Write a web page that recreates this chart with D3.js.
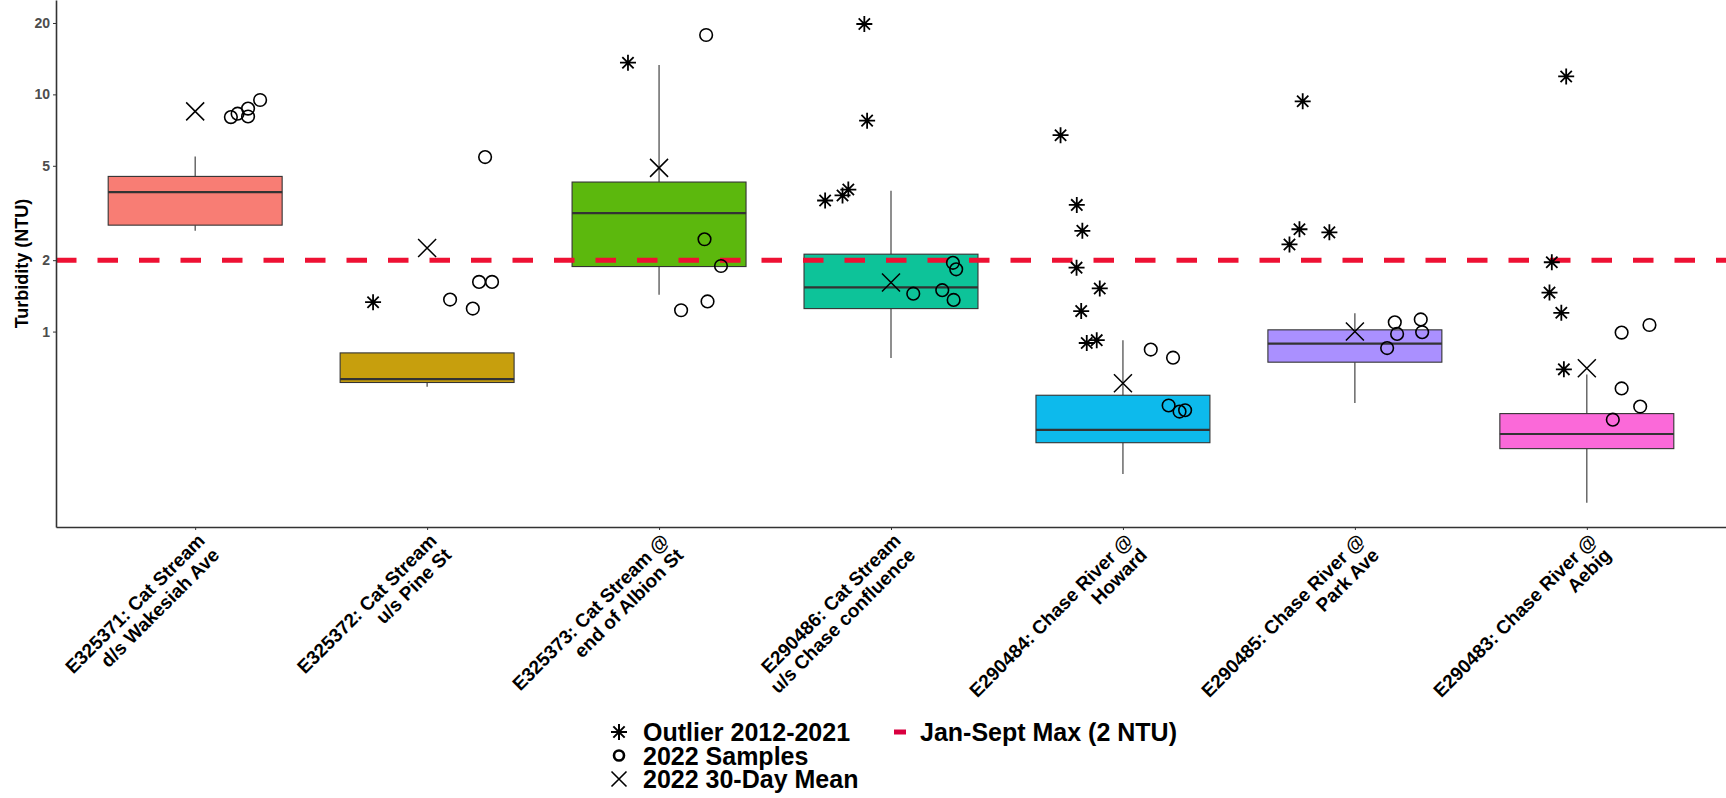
<!DOCTYPE html>
<html>
<head>
<meta charset="utf-8">
<script src="https://cdn.jsdelivr.net/npm/d3@7"></script>
<style>
  html, body { margin: 0; padding: 0; background: #ffffff; }
  svg { display: block; font-family: "Liberation Sans", Arial, sans-serif; }
</style>
</head>
<body>
<svg id="chart" width="1726" height="798"></svg>
<script>
// ---------------- data ----------------
const sites = [
  "E325371: Cat Stream|d/s Wakesiah Ave",
  "E325372: Cat Stream|u/s Pine St",
  "E325373: Cat Stream @|end of Albion St",
  "E290486: Cat Stream|u/s Chase confluence",
  "E290484: Chase River @|Howard",
  "E290485: Chase River @|Park Ave",
  "E290483: Chase River @|Aebig"
];
// box statistics 2012-2021
const whiskerLow  = [2.66, 0.586, 1.43, 0.773, 0.251, 0.50, 0.19];
const q1          = [2.81, 0.61,  1.88, 1.25,  0.340, 0.743, 0.321];
const median      = [3.87, 0.63,  3.16, 1.535, 0.385, 0.89, 0.370];
const q3          = [4.51, 0.813, 4.27, 2.12,  0.539, 1.017, 0.451];
const whiskerHigh = [5.47, 0.813, 13.3, 3.92,  0.920, 1.195, 0.66];
// 2022 30-day mean
const mean30 = [8.48, 2.25, 4.90, 1.61, 0.605, 1.00, 0.70];
// Outliers 2012-2021 (site index, value, jitter in category units)
const outlierSite   = [1, 2, 3, 3, 3, 3, 3, 4, 4, 4, 4, 4, 4, 4, 4, 5, 5, 5, 5, 6, 6, 6, 6, 6];
const outlierValue  = [1.33, 13.6, 19.8, 7.75, 3.57, 3.75, 3.97, 6.73, 3.42, 2.66, 1.86, 1.52, 1.22, 0.895, 0.92, 9.35, 2.70, 2.33, 2.62, 11.9, 1.96, 1.46, 1.20, 0.693];
const outlierJitter = [-0.233, -0.134, -0.115, -0.103, -0.284, -0.209, -0.184, -0.269, -0.199, -0.175, -0.200, -0.100, -0.180, -0.156, -0.113, -0.225, -0.239, -0.282, -0.110, -0.089, -0.151, -0.161, -0.110, -0.099];
// 2022 samples
const sampleSite   = [0, 0, 0, 0, 0, 1, 1, 1, 1, 1, 2, 2, 2, 2, 2, 3, 3, 3, 3, 3, 4, 4, 4, 4, 4, 5, 5, 5, 5, 5, 6, 6, 6, 6, 6];
const sampleValue  = [8.02, 8.29, 8.71, 8.07, 9.47, 1.365, 1.25, 1.62, 1.62, 5.44, 17.8, 2.45, 1.89, 1.34, 1.23, 1.445, 1.494, 1.36, 1.95, 1.83, 0.84, 0.776, 0.488, 0.46, 0.466, 1.094, 0.977, 0.852, 1.125, 0.994, 0.99, 1.066, 0.576, 0.483, 0.425];
const sampleJitter = [0.154, 0.183, 0.228, 0.228, 0.280, 0.099, 0.197, 0.224, 0.280, 0.250, 0.203, 0.196, 0.267, 0.209, 0.095, 0.096, 0.221, 0.270, 0.267, 0.281, 0.120, 0.216, 0.197, 0.244, 0.268, 0.172, 0.182, 0.139, 0.284, 0.290, 0.150, 0.270, 0.150, 0.230, 0.112];
const yTicks = [1, 2, 5, 10, 20];
const limitValue = 2;
const fills = ["#F8766D", "#C49A00", "#53B400", "#00C094", "#00B6EB", "#A58AFF", "#FB61D7"];
const legendLabels = ["Outlier 2012-2021", "2022 Samples", "2022 30-Day Mean", "Jan-Sept Max (2 NTU)"];

// ---------------- layout ----------------
const svg = d3.select("#chart");
const plotLeft = 56, plotRight = 1726, plotTop = 0, plotBottom = 527;
const x = d3.scalePoint().domain(d3.range(sites.length)).range([plotLeft, plotRight]).padding(0.6);
const y = d3.scaleLog().domain([0.15, 25]).range([plotBottom, plotTop]);
const step = x.step();
const boxW = step * 0.75;

// marker paths
const starPath = r => {
  const d = r * Math.SQRT1_2;
  return `M${-r},0L${r},0M0,${-r}L0,${r}M${-d},${-d}L${d},${d}M${-d},${d}L${d},${-d}`;
};
const crossPath = r => `M${-r},${-r}L${r},${r}M${-r},${r}L${r},${-r}`;

// ---------------- boxes ----------------
const boxes = svg.append("g").selectAll("g")
  .data(sites.map((s, i) => i))
  .join("g");
boxes.append("line")
  .attr("x1", i => x(i)).attr("x2", i => x(i))
  .attr("y1", i => y(whiskerHigh[i])).attr("y2", i => y(q3[i]))
  .attr("stroke", "#333").attr("stroke-width", 1.1);
boxes.append("line")
  .attr("x1", i => x(i)).attr("x2", i => x(i))
  .attr("y1", i => y(q1[i])).attr("y2", i => y(whiskerLow[i]))
  .attr("stroke", "#333").attr("stroke-width", 1.1);
boxes.append("rect")
  .attr("x", i => x(i) - boxW / 2)
  .attr("width", boxW)
  .attr("y", i => y(q3[i]))
  .attr("height", i => y(q1[i]) - y(q3[i]))
  .attr("fill", i => fills[i])
  .attr("fill-opacity", 0.95)
  .attr("stroke", "#333")
  .attr("stroke-width", 1.1);
boxes.append("line")
  .attr("x1", i => x(i) - boxW / 2).attr("x2", i => x(i) + boxW / 2)
  .attr("y1", i => y(median[i])).attr("y2", i => y(median[i]))
  .attr("stroke", "#333").attr("stroke-width", 2.2);

// ---------------- guideline ----------------
svg.append("line")
  .attr("x1", plotLeft).attr("x2", plotRight)
  .attr("y1", y(limitValue)).attr("y2", y(limitValue))
  .attr("stroke", "#EE1133")
  .attr("stroke-width", 5)
  .attr("stroke-dasharray", "20.5,21");

// ---------------- points ----------------
const pts = svg.append("g");
pts.selectAll("circle.sample")
  .data(sampleValue.map((v, i) => ({ v, s: sampleSite[i], j: sampleJitter[i] })))
  .join("circle")
  .attr("class", "sample")
  .attr("cx", d => x(d.s) + d.j * step)
  .attr("cy", d => y(d.v))
  .attr("r", 6.3)
  .attr("fill", "none")
  .attr("stroke", "#000")
  .attr("stroke-width", 1.6);

pts.selectAll("path.outlier")
  .data(outlierValue.map((v, i) => ({ v, s: outlierSite[i], j: outlierJitter[i] })))
  .join("path")
  .attr("class", "outlier")
  .attr("transform", d => `translate(${x(d.s) + d.j * step},${y(d.v)})`)
  .attr("d", starPath(8))
  .attr("stroke", "#000")
  .attr("stroke-width", 1.8)
  .attr("fill", "none");

pts.selectAll("path.mean")
  .data(mean30.map((v, i) => ({ v, s: i })))
  .join("path")
  .attr("class", "mean")
  .attr("transform", d => `translate(${x(d.s)},${y(d.v)})`)
  .attr("d", crossPath(9))
  .attr("stroke", "#000")
  .attr("stroke-width", 1.5)
  .attr("fill", "none");

// ---------------- axes ----------------
const yAxis = svg.append("g")
  .attr("transform", `translate(${plotLeft},0)`)
  .call(d3.axisLeft(y).tickValues(yTicks).tickFormat(d3.format("d")).tickSize(3).tickSizeOuter(0).tickPadding(3));
yAxis.select(".domain").attr("stroke", "#333").attr("stroke-width", 1.6);
yAxis.selectAll(".tick line").attr("stroke", "#333");
yAxis.selectAll(".tick text").attr("fill", "#4D4D4D").attr("font-size", 14).attr("font-weight", "bold")
  .attr("font-family", "Liberation Sans, Arial, sans-serif");

const xAxis = svg.append("g")
  .attr("transform", `translate(0,${plotBottom})`)
  .call(d3.axisBottom(x).tickSize(3).tickSizeOuter(0).tickFormat(""));
xAxis.select(".domain").attr("stroke", "#333").attr("stroke-width", 1.6);
xAxis.selectAll(".tick line").attr("stroke", "#333");

// x tick labels, rotated 45 degrees, right-justified
const fsX = 19;
const xl = svg.append("g").selectAll("text")
  .data(sites.map((s, i) => ({ s, i })))
  .join("text")
  .attr("transform", d => `translate(${x(d.i) + 1},${plotBottom + 5}) rotate(-45)`)
  .attr("text-anchor", "end")
  .attr("font-size", fsX)
  .attr("font-weight", "bold")
  .attr("fill", "#000");
xl.each(function (d) {
  const lines = d.s.split("|");
  d3.select(this).selectAll("tspan").data(lines).join("tspan")
    .attr("x", 0)
    .attr("y", (l, k) => 14 + k * 20.5)
    .text(l => l);
});

// y title
svg.append("text")
  .attr("transform", `translate(28,${(plotTop + plotBottom) / 2}) rotate(-90)`)
  .attr("text-anchor", "middle")
  .attr("font-size", 18)
  .attr("font-weight", "bold")
  .attr("fill", "#000")
  .text("Turbidity (NTU)");

// ---------------- legend ----------------
const lg = svg.append("g").attr("font-size", 25).attr("font-weight", "bold").attr("fill", "#000");
const rowY = [732, 755.5, 779];
const keyX = 619, textX = 643;
lg.append("path").attr("transform", `translate(${keyX},${rowY[0]})`).attr("d", starPath(8))
  .attr("stroke", "#000").attr("stroke-width", 2).attr("fill", "none");
lg.append("circle").attr("cx", keyX).attr("cy", rowY[1]).attr("r", 5)
  .attr("stroke", "#000").attr("stroke-width", 2.6).attr("fill", "none");
lg.append("path").attr("transform", `translate(${keyX},${rowY[2]})`).attr("d", crossPath(7.5))
  .attr("stroke", "#000").attr("stroke-width", 1.6).attr("fill", "none");
lg.selectAll("text.row").data(legendLabels.slice(0, 3)).join("text")
  .attr("class", "row")
  .attr("x", textX)
  .attr("y", (t, k) => rowY[k] + 9)
  .text(t => t);
lg.append("line").attr("x1", 894).attr("x2", 906).attr("y1", rowY[0]).attr("y2", rowY[0])
  .attr("stroke", "#D9003F").attr("stroke-width", 5);
lg.append("text").attr("x", 920).attr("y", rowY[0] + 9).text(legendLabels[3]);
</script>
</body>
</html>
